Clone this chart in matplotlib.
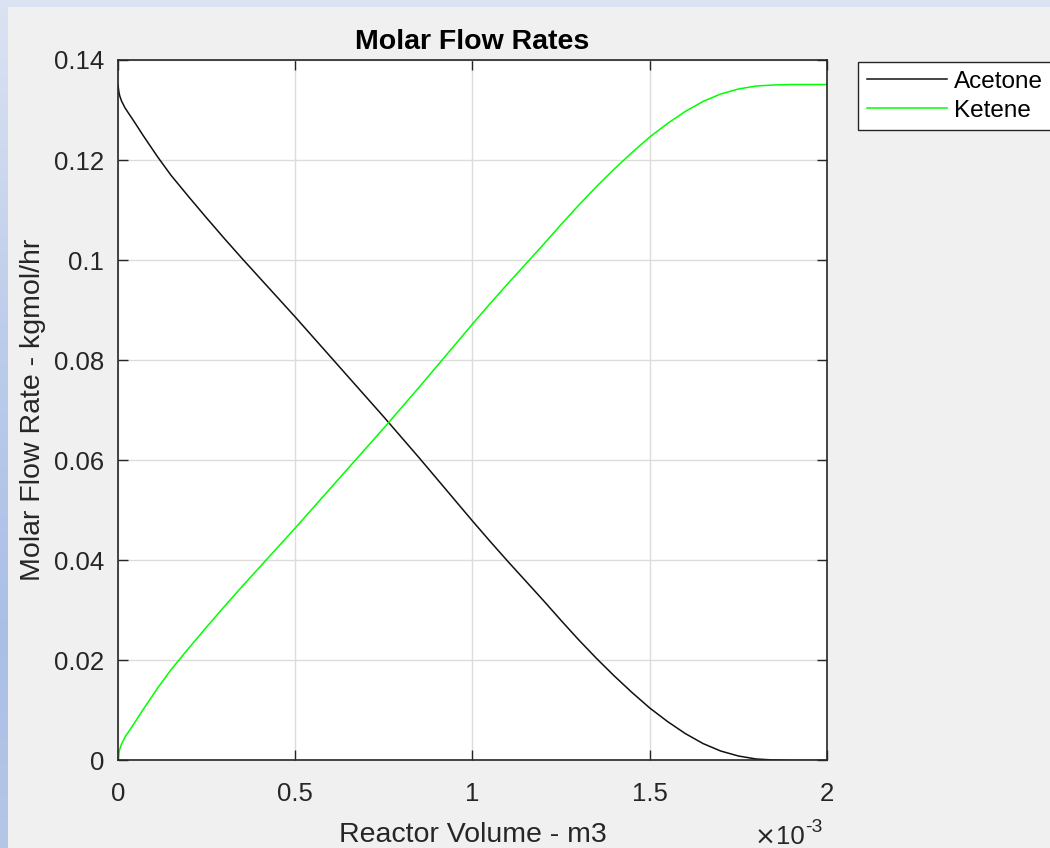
import numpy as np
import matplotlib
matplotlib.use("Agg")
import matplotlib.pyplot as plt
from matplotlib.ticker import FuncFormatter
from matplotlib.patches import Rectangle

plt.rcParams['font.family'] = ['Liberation Sans', 'DejaVu Sans']

# Reactor volume (m3)
volume = [0.0, 0.0025e-3, 0.005e-3, 0.01e-3, 0.02e-3, 0.035e-3, 0.05e-3, 0.07e-3,
          0.09e-3, 0.113e-3, 0.15e-3, 0.2e-3, 0.25e-3, 0.3e-3, 0.35e-3, 0.4e-3,
          0.45e-3, 0.5e-3, 0.55e-3, 0.6e-3, 0.65e-3, 0.7e-3, 0.75e-3, 0.8e-3,
          0.85e-3, 0.9e-3, 0.95e-3, 1.0e-3, 1.05e-3, 1.1e-3, 1.15e-3, 1.2e-3,
          1.25e-3, 1.3e-3, 1.35e-3, 1.4e-3, 1.45e-3, 1.5e-3, 1.55e-3, 1.6e-3,
          1.65e-3, 1.7e-3, 1.75e-3, 1.8e-3, 1.85e-3, 1.9e-3, 1.95e-3, 2.0e-3]
# Molar flow rates (kgmol/hr)
acetone = [0.1350, 0.1336, 0.1328, 0.1318, 0.1304, 0.1288, 0.1272, 0.1250,
           0.1229, 0.1205, 0.1169, 0.1126, 0.1084, 0.1043, 0.1003, 0.0964,
           0.0925, 0.0886, 0.0846, 0.0806, 0.0766, 0.0726, 0.0686, 0.0645,
           0.0604, 0.0562, 0.0520, 0.0478, 0.0437, 0.0397, 0.0358, 0.0319,
           0.0279, 0.0240, 0.0203, 0.0168, 0.0135, 0.0104, 0.0077, 0.0053,
           0.0033, 0.0018, 0.0008, 0.0002, 0.0000, -0.0001, -0.0001, -0.0001]
ketene = [0.0000, 0.0014, 0.0022, 0.0032, 0.0046, 0.0062, 0.0078, 0.0100,
          0.0121, 0.0145, 0.0181, 0.0224, 0.0266, 0.0307, 0.0347, 0.0386,
          0.0425, 0.0464, 0.0504, 0.0544, 0.0584, 0.0624, 0.0664, 0.0705,
          0.0746, 0.0788, 0.0830, 0.0872, 0.0913, 0.0953, 0.0992, 0.1031,
          0.1071, 0.1110, 0.1147, 0.1182, 0.1215, 0.1246, 0.1273, 0.1297,
          0.1317, 0.1332, 0.1342, 0.1348, 0.1350, 0.1351, 0.1351, 0.1351]

xticks = [0, 0.5e-3, 1.0e-3, 1.5e-3, 2.0e-3]
yticks = [0, 0.02, 0.04, 0.06, 0.08, 0.1, 0.12, 0.14]

W, H = 1050, 848
fig = plt.figure(figsize=(W / 100, H / 100), dpi=100, facecolor='#f0f0f0')

# bluish window border (left and top)
grad = np.linspace(0, 1, 256)
cols = np.array([[0.86, 0.89, 0.95], [0.74, 0.80, 0.92], [0.67, 0.75, 0.90], [0.71, 0.78, 0.90]])
pos = np.array([0.0, 0.4, 0.75, 1.0])
img = np.stack([np.interp(grad, pos, cols[:, i]) for i in range(3)], axis=1)[:, None, :]
bax = fig.add_axes([0, 0, 8 / W, 1])
bax.imshow(img, aspect='auto', extent=[0, 1, 0, 1], origin='upper')
bax.axis('off')
fig.patches.append(Rectangle((0, 1 - 7 / H), 1, 7 / H, transform=fig.transFigure,
                             facecolor='#dbe3f2', edgecolor='none', zorder=0))

ax = fig.add_axes([118 / W, 1 - 760 / H, (827 - 118) / W, (760 - 60) / H])
ax.set_facecolor('white')

ax.plot(volume, acetone, color='#111111', lw=1.1, label='Acetone')
ax.plot(volume, ketene, color='#00ff00', lw=1.1, label='Ketene')

ax.set_xlim(0, 2e-3)
ax.set_ylim(0, 0.14)
ax.set_xticks(xticks)
ax.set_yticks(yticks)
ax.xaxis.set_major_formatter(FuncFormatter(lambda v, p: f'{v * 1e3:g}'))
ax.yaxis.set_major_formatter(FuncFormatter(lambda v, p: f'{v:g}'))

ax.grid(True, color='#dcdcdc', lw=1.0)
ax.set_axisbelow(True)
for s in ax.spines.values():
    s.set_color('#262626')
    s.set_linewidth(1.2)
ax.tick_params(axis='both', which='both', direction='in', length=7, width=1.0,
               colors='#262626', labelsize=18.5, top=True, right=True)
ax.tick_params(axis='x', pad=16)
ax.tick_params(axis='y', pad=10)

ax.set_title('Molar Flow Rates', fontsize=20.5, fontweight='bold', color='black', pad=8)
ax.set_xlabel('Reactor Volume - m3', fontsize=20.5, color='#262626', labelpad=11)
ax.set_ylabel('Molar Flow Rate - kgmol/hr', fontsize=20.5, color='#262626', labelpad=6)

# exponent label
fig.text(765 / W, 1 - 838 / H, '\u00d7', ha='center', va='center',
         fontsize=18, color='#262626', family='DejaVu Sans')
fig.text(805 / W, 1 - 844 / H, '10', ha='right', va='baseline',
         fontsize=18.5, color='#262626')
fig.text(805 / W, 1 - 832 / H, '-3', ha='left', va='baseline',
         fontsize=14, color='#262626')

leg = ax.legend(loc='upper left', bbox_to_anchor=(858 / W, 1 - 62 / H),
                bbox_transform=fig.transFigure, fontsize=17.5, frameon=True,
                fancybox=False, edgecolor='#262626', framealpha=1,
                handlelength=3.3, handletextpad=0.3, labelspacing=0.3,
                borderpad=0.35, borderaxespad=0)
leg.get_frame().set_linewidth(1.0)

fig.savefig('out.png', dpi=100, facecolor=fig.get_facecolor())
